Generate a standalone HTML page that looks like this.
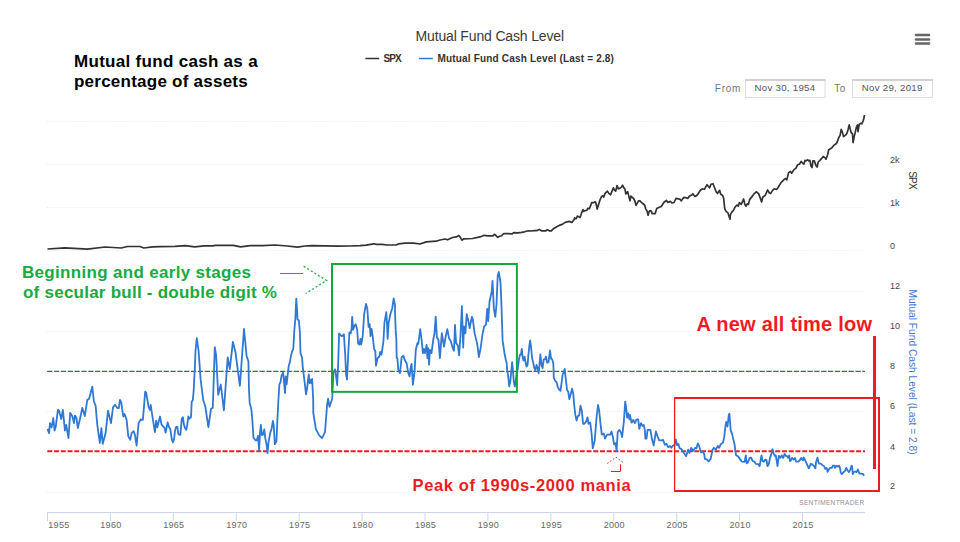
<!DOCTYPE html>
<html><head><meta charset="utf-8">
<style>
html,body{margin:0;padding:0;background:#fff;}
body{width:960px;height:542px;position:relative;overflow:hidden;font-family:"Liberation Sans", sans-serif;}
.t{position:absolute;white-space:nowrap;line-height:1;}
svg{position:absolute;left:0;top:0;}
</style></head><body>
<svg width="960" height="542" viewBox="0 0 960 542">
  <!-- gridlines top -->
  <g stroke="#ebebeb" stroke-width="1" stroke-dasharray="1,1.5">
    <line x1="47" y1="121.5" x2="864" y2="121.5"/>
    <line x1="47" y1="164.5" x2="864" y2="164.5"/>
    <line x1="47" y1="207.5" x2="864" y2="207.5"/>
    <line x1="47" y1="250.5" x2="864" y2="250.5"/>
    <line x1="47" y1="291.5" x2="864" y2="291.5"/>
    <line x1="47" y1="331.5" x2="864" y2="331.5"/>
    <line x1="47" y1="411.5" x2="864" y2="411.5"/>
    <line x1="47" y1="492.5" x2="864" y2="492.5"/>
  </g>
  <!-- x axis -->
  <g stroke="#ccd6eb" stroke-width="1">
    <line x1="47" y1="512.5" x2="865" y2="512.5"/>
  </g>
  <g stroke="#ccd6eb" stroke-width="1">
    <line x1="47.5" y1="512" x2="47.5" y2="521"/><line x1="110.4" y1="512" x2="110.4" y2="521"/><line x1="173.3" y1="512" x2="173.3" y2="521"/><line x1="236.3" y1="512" x2="236.3" y2="521"/><line x1="299.2" y1="512" x2="299.2" y2="521"/><line x1="362.1" y1="512" x2="362.1" y2="521"/><line x1="425.0" y1="512" x2="425.0" y2="521"/><line x1="487.9" y1="512" x2="487.9" y2="521"/><line x1="550.9" y1="512" x2="550.9" y2="521"/><line x1="613.8" y1="512" x2="613.8" y2="521"/><line x1="676.7" y1="512" x2="676.7" y2="521"/><line x1="739.6" y1="512" x2="739.6" y2="521"/><line x1="802.5" y1="512" x2="802.5" y2="521"/>
  </g>
  <!-- annotations lines -->
  <line x1="47.1" y1="371.4" x2="865" y2="371.4" stroke="#168a28" stroke-width="1.3" stroke-dasharray="5.3,1.55"/>
  <line x1="47.3" y1="451.25" x2="865" y2="451.25" stroke="#ed1c24" stroke-width="2" stroke-dasharray="5,1.74"/>
  <!-- series -->
  <path d="M47.5 249.0 L65.0 247.8 L87.5 249.2 L105.0 247.0 L121.2 248.0 L127.5 246.5 L140.0 246.5 L143.8 248.0 L152.5 246.8 L160.0 246.6 L175.0 246.4 L185.4 245.7 L194.8 246.9 L204.2 245.9 L212.5 245.9 L215.6 245.4 L233.3 245.4 L240.6 246.9 L250.0 245.6 L262.5 245.6 L275.0 245.0 L287.5 246.0 L297.5 247.1 L305.0 246.0 L312.5 245.6 L337.5 246.2 L350.0 246.0 L360.0 245.6 L366.2 245.2 L373.8 243.8 L376.2 244.4 L382.5 244.4 L386.2 245.0 L396.2 245.0 L398.8 243.8 L405.0 243.1 L413.8 243.1 L420.0 244.0 L426.2 241.9 L436.2 241.2 L440.0 240.0 L445.0 239.0 L447.5 239.8 L452.5 237.5 L456.2 236.9 L458.8 235.6 L460.0 236.9 L461.9 240.2 L463.8 238.8 L472.5 238.5 L480.0 236.8 L482.0 236.3 L484.0 235.3 L487.9 235.8 L492.9 235.8 L494.4 234.3 L495.8 235.3 L497.8 237.3 L499.8 236.3 L501.3 235.8 L503.8 233.6 L507.7 233.6 L512.2 233.8 L513.7 232.6 L517.6 232.8 L521.6 232.3 L524.5 231.8 L528.5 230.8 L530.5 231.0 L534.5 230.6 L536.9 230.6 L539.4 229.4 L541.4 230.8 L545.8 230.8 L547.3 229.8 L549.3 230.8 L551.3 230.8 L553.8 228.4 L557.2 226.4 L559.2 225.4 L562.2 224.4 L565.1 222.4 L569.1 221.4 L571.6 222.4 L571.9 222.5 L574.1 219.5 L574.6 217.9 L576.0 218.8 L577.4 216.1 L579.2 217.0 L580.1 217.4 L581.5 213.3 L582.9 209.6 L583.8 211.4 L585.2 210.5 L586.6 210.5 L588.0 208.2 L589.4 208.7 L590.3 206.4 L591.7 202.7 L593.5 202.7 L595.4 201.8 L596.3 204.5 L597.2 209.1 L598.6 204.5 L600.0 199.9 L601.8 196.2 L602.8 195.8 L603.7 197.1 L605.1 193.4 L607.4 191.1 L608.8 193.4 L610.6 194.8 L612.0 191.1 L613.4 187.9 L614.3 189.8 L615.7 191.1 L617.0 185.6 L618.4 188.8 L619.8 188.4 L621.2 187.4 L622.6 185.2 L623.5 187.4 L624.9 188.8 L625.8 193.9 L627.7 191.6 L629.0 197.1 L630.0 200.8 L630.9 196.2 L633.6 198.5 L635.0 201.3 L636.0 205.4 L637.3 203.1 L638.7 200.8 L640.0 200.9 L642.0 203.0 L644.6 205.0 L645.6 208.6 L647.1 211.1 L648.1 215.2 L649.1 211.6 L650.1 210.6 L651.2 211.1 L652.2 213.6 L655.2 213.6 L656.7 208.6 L658.8 207.5 L661.3 206.5 L663.8 202.5 L666.4 200.4 L667.9 202.5 L670.4 201.4 L672.0 203.0 L674.0 202.5 L676.0 198.4 L678.6 198.9 L680.1 199.4 L681.1 200.9 L682.6 198.9 L684.1 197.4 L686.7 197.9 L687.7 198.4 L689.7 195.9 L691.8 194.9 L692.8 193.8 L694.8 196.4 L696.3 195.9 L697.8 194.3 L700.4 190.3 L702.4 188.8 L704.4 189.3 L707.0 184.7 L708.2 186.2 L709.5 187.8 L711.0 184.2 L713.0 183.7 L714.6 187.8 L716.1 191.8 L717.6 193.3 L719.6 190.3 L720.7 194.3 L722.7 195.4 L723.7 198.4 L724.7 208.6 L726.2 211.6 L727.8 212.6 L730.0 219.2 L730.4 214.6 L732.2 211.6 L733.4 210.4 L735.2 206.8 L737.0 205.0 L738.2 206.2 L739.4 202.6 L741.2 204.4 L743.6 199.0 L744.8 204.4 L746.0 206.2 L747.2 203.8 L748.4 204.4 L749.6 199.6 L752.0 196.6 L753.8 194.2 L756.2 191.8 L758.6 193.6 L760.4 198.4 L761.6 202.0 L762.8 197.2 L765.2 195.4 L767.6 190.0 L769.4 193.0 L770.6 193.6 L772.4 190.6 L774.2 188.8 L776.6 189.4 L778.4 187.0 L780.8 182.8 L783.8 179.8 L785.6 178.6 L786.8 179.8 L788.6 172.6 L790.4 171.4 L791.6 173.2 L794.0 169.6 L795.8 168.4 L797.0 166.0 L797.8 164.8 L799.4 164.2 L801.1 161.4 L802.7 163.1 L803.9 164.2 L805.0 160.3 L806.1 160.9 L807.7 159.8 L808.8 160.9 L809.9 160.3 L811.0 165.9 L812.1 167.5 L812.9 160.9 L814.4 160.9 L815.8 165.3 L817.1 167.0 L818.2 162.0 L819.9 160.3 L821.5 158.7 L823.2 156.5 L824.9 157.6 L826.0 159.2 L827.6 154.8 L828.7 149.8 L830.4 148.7 L832.1 147.6 L833.7 145.4 L835.4 144.3 L837.0 142.6 L838.7 137.7 L840.1 135.4 L841.2 129.4 L842.4 132.1 L843.5 136.6 L845.3 135.4 L847.0 133.2 L848.1 129.4 L849.2 124.9 L850.3 129.4 L851.2 132.7 L852.5 133.8 L853.1 142.6 L854.2 136.6 L855.3 132.1 L856.4 127.2 L857.5 124.9 L858.0 131.6 L859.2 124.4 L860.8 123.3 L861.9 123.8 L863.0 121.1 L863.8 118.8 L864.5 115.0" fill="none" stroke="#333" stroke-width="1.7" stroke-linejoin="round"/>
  <path d="M47.5 428.9 L49.1 433.1 L50.0 423.1 L51.6 427.3 L53.3 418.1 L54.6 430.6 L55.8 426.4 L57.9 409.8 L59.1 410.7 L61.2 419.0 L62.9 409.8 L64.9 430.6 L66.2 424.8 L68.5 438.0 L70.2 412.8 L72.4 416.5 L74.0 423.1 L74.9 415.6 L76.5 418.1 L77.8 428.1 L79.8 419.8 L82.3 407.8 L84.8 416.1 L87.3 399.9 L89.0 399.0 L90.6 393.2 L92.3 386.6 L93.9 401.5 L95.6 405.7 L97.3 424.8 L99.8 443.0 L101.4 428.1 L102.7 443.9 L105.6 433.1 L108.0 410.7 L111.0 423.1 L113.0 407.3 L115.0 404.9 L117.2 407.8 L118.8 408.2 L120.0 399.9 L121.3 402.4 L122.0 408.2 L123.3 416.5 L124.6 414.0 L126.6 419.8 L128.3 436.4 L130.3 439.7 L131.6 433.1 L133.6 431.1 L134.9 434.7 L136.6 445.5 L138.6 423.1 L140.7 419.5 L142.9 419.8 L145.2 391.6 L146.2 392.9 L148.5 406.5 L149.9 409.8 L150.7 404.9 L151.9 413.2 L154.0 426.4 L154.9 432.2 L156.2 420.6 L157.3 427.3 L159.8 417.3 L160.0 416.5 L161.5 424.6 L162.9 426.1 L164.4 427.6 L165.6 432.7 L166.6 427.6 L167.7 422.4 L168.9 426.8 L170.3 429.0 L171.8 439.4 L173.0 442.3 L174.0 439.4 L175.1 430.5 L176.2 426.8 L177.4 426.8 L178.4 434.2 L180.4 434.9 L181.8 418.7 L182.9 417.2 L183.9 424.6 L185.1 428.3 L186.3 429.8 L187.3 424.6 L188.3 416.5 L189.5 418.7 L191.0 417.2 L191.7 401.7 L192.8 400.3 L193.7 390.7 L194.2 378.9 L194.8 370.0 L195.5 351.0 L196.8 338.1 L198.6 351.0 L200.6 379.4 L203.2 400.0 L205.3 406.5 L208.4 427.1 L211.0 409.0 L212.8 407.7 L214.8 347.1 L216.1 354.8 L218.2 394.8 L220.8 384.5 L223.9 410.3 L227.7 357.4 L229.8 369.0 L232.9 341.9 L235.5 352.3 L239.9 385.8 L244.0 329.0 L246.6 356.1 L248.4 361.3 L249.0 390.0 L249.7 402.9 L251.4 409.4 L252.3 419.7 L253.5 437.7 L255.5 440.3 L256.8 440.3 L258.1 435.8 L259.1 450.6 L260.0 432.6 L260.9 424.8 L261.9 435.2 L263.2 434.5 L264.3 429.4 L265.2 437.7 L266.5 444.2 L267.5 453.2 L268.6 441.6 L270.3 432.6 L271.6 428.7 L272.9 421.0 L273.8 426.1 L274.8 444.2 L276.4 441.6 L277.4 419.7 L278.4 400.0 L279.4 384.3 L280.5 382.1 L281.6 375.4 L283.1 372.7 L283.8 378.8 L285.0 393.2 L285.7 376.5 L286.6 384.3 L287.5 376.5 L288.8 365.5 L289.9 362.1 L290.8 356.6 L291.9 352.2 L293.3 348.9 L294.3 330.6 L295.3 319.4 L295.8 308.3 L296.3 298.6 L297.1 310.3 L297.5 319.4 L298.9 320.5 L299.9 332.6 L300.5 353.3 L302.1 357.7 L302.7 366.6 L303.8 375.4 L304.9 384.3 L306.0 394.3 L307.1 388.7 L307.9 381.0 L308.8 374.3 L309.6 383.2 L310.8 379.9 L311.5 383.2 L312.1 378.8 L313.2 399.8 L313.3 412.9 L315.9 429.1 L319.0 435.2 L322.0 438.2 L325.0 432.2 L327.1 404.8 L328.1 398.7 L329.5 406.8 L332.2 398.7 L333.5 372.0 L335.0 369.4 L335.9 374.9 L337.2 385.1 L338.3 360.2 L339.1 333.4 L340.5 335.2 L342.0 336.2 L343.9 334.3 L345.2 354.6 L346.1 374.9 L347.0 379.6 L348.3 352.8 L349.4 332.5 L350.7 333.4 L351.6 328.8 L352.2 316.8 L353.1 329.7 L354.4 326.0 L355.7 324.2 L357.2 329.7 L358.1 343.6 L359.4 344.5 L360.5 338.9 L361.2 344.5 L362.7 336.2 L364.2 314.0 L366.0 303.9 L367.3 308.5 L368.6 326.9 L369.7 324.2 L370.5 336.2 L371.6 328.8 L372.9 338.0 L374.1 349.1 L375.3 350.9 L376.0 365.7 L377.5 358.3 L379.3 356.5 L380.2 351.9 L381.5 354.6 L383.4 341.7 L384.5 322.3 L386.3 312.2 L387.1 325.1 L387.6 338.9 L388.6 323.2 L390.4 314.0 L392.2 308.5 L393.7 298.3 L395.0 305.0 L395.0 312.2 L395.8 333.2 L396.3 338.0 L396.7 358.1 L397.4 358.3 L398.3 369.8 L400.0 373.1 L401.6 357.3 L403.3 355.6 L405.0 360.6 L406.6 363.1 L408.3 373.1 L409.6 376.4 L410.8 366.4 L411.6 363.9 L412.9 384.7 L414.6 371.4 L415.8 349.8 L417.4 343.2 L418.3 344.0 L420.2 329.1 L421.6 339.9 L422.9 353.2 L424.1 349.0 L424.9 353.2 L426.6 344.9 L427.4 358.1 L428.2 348.2 L429.1 364.8 L429.9 349.8 L431.5 353.2 L433.5 338.2 L434.5 333.2 L435.7 316.6 L436.9 337.4 L438.5 339.9 L439.9 358.1 L441.8 333.2 L444.0 346.5 L445.7 336.5 L447.3 329.1 L449.0 338.2 L450.6 340.7 L452.8 348.2 L454.0 350.7 L455.0 324.9 L456.1 343.1 L457.9 345.7 L459.1 355.4 L460.5 335.2 L461.9 306.2 L463.2 347.5 L464.0 326.4 L465.4 333.4 L466.7 314.1 L468.4 321.1 L469.6 328.2 L471.9 316.8 L472.8 319.4 L474.6 333.4 L477.2 343.9 L478.9 357.1 L480.7 347.5 L482.5 334.3 L484.2 326.4 L486.0 324.6 L487.2 308.9 L488.2 321.1 L489.5 301.8 L491.8 291.3 L492.5 280.8 L493.9 308.9 L495.3 316.8 L496.5 304.5 L497.7 275.5 L498.8 272.0 L500.5 282.5 L501.4 303.6 L502.6 340.4 L504.4 352.7 L505.8 359.7 L506.6 362.6 L507.2 370.4 L508.3 377.0 L509.2 386.4 L510.3 381.5 L511.6 368.2 L512.1 362.1 L512.9 370.4 L513.8 381.5 L514.7 386.4 L515.5 383.7 L516.6 373.2 L517.7 369.3 L518.8 360.4 L519.9 354.9 L521.0 354.4 L521.8 348.8 L522.6 357.1 L523.5 360.4 L524.6 356.6 L525.4 361.6 L526.5 366.5 L527.6 364.9 L528.2 357.1 L529.3 346.1 L530.2 340.5 L531.0 346.6 L532.1 358.2 L533.2 362.6 L534.3 368.2 L535.4 370.4 L536.5 364.9 L537.6 368.2 L538.7 373.2 L540.4 354.4 L541.5 364.9 L542.6 368.2 L543.7 359.3 L545.0 359.3 L545.9 356.6 L547.2 362.7 L548.5 362.1 L550.0 350.5 L551.1 358.8 L552.2 359.4 L553.3 363.3 L553.8 377.6 L555.5 381.5 L556.6 382.1 L557.7 387.1 L559.4 389.8 L560.5 390.9 L561.6 382.6 L562.7 374.3 L563.6 372.7 L564.7 368.8 L565.5 376.5 L567.1 390.4 L568.2 391.5 L569.3 399.2 L570.7 394.3 L572.1 388.7 L573.2 393.2 L573.8 399.8 L574.0 403.1 L575.3 414.7 L576.6 420.5 L577.9 416.0 L579.2 415.4 L580.5 405.7 L581.8 410.8 L583.1 423.8 L584.4 423.8 L586.3 421.2 L587.6 417.3 L588.5 423.8 L590.2 422.5 L591.5 432.8 L592.8 448.3 L594.7 440.6 L596.6 417.3 L598.0 405.0 L599.2 410.8 L600.5 423.8 L601.8 434.7 L603.8 433.4 L605.0 438.6 L607.0 434.7 L610.2 434.7 L611.5 431.5 L612.8 436.7 L614.1 444.4 L615.0 444.4 L615.5 443.2 L616.6 450.9 L617.7 432.1 L619.4 429.9 L621.0 432.6 L622.1 437.1 L623.8 422.1 L625.2 401.6 L626.0 406.1 L627.1 417.7 L628.2 413.3 L629.4 419.4 L629.9 414.9 L631.6 422.7 L633.2 419.9 L634.9 423.2 L636.5 419.4 L638.2 419.4 L639.3 428.8 L641.0 423.2 L642.6 426.0 L643.7 424.9 L644.9 430.4 L645.4 438.7 L646.5 438.7 L647.6 429.9 L650.4 429.9 L652.0 439.3 L653.7 445.4 L655.9 431.5 L657.6 436.5 L659.2 440.4 L662.0 440.4 L663.1 439.9 L664.8 444.8 L666.5 443.7 L668.1 447.1 L670.0 446.5 L670.0 445.9 L671.3 447.8 L672.6 445.9 L674.5 445.2 L675.8 439.4 L677.1 445.2 L678.4 443.9 L679.7 448.4 L681.6 449.1 L682.9 451.7 L684.9 454.2 L686.1 456.2 L688.1 449.7 L689.4 452.9 L691.3 447.8 L693.0 451.0 L695.2 447.8 L696.5 448.4 L697.8 443.3 L699.1 445.9 L701.0 452.3 L702.9 451.7 L704.2 454.2 L704.9 458.8 L706.8 459.4 L708.7 461.4 L710.7 458.8 L712.6 449.7 L713.9 447.8 L715.9 449.7 L717.8 445.9 L719.1 447.8 L721.0 443.9 L723.0 442.6 L724.2 437.4 L725.5 425.8 L726.2 422.0 L727.5 426.5 L728.8 414.9 L729.4 413.6 L730.7 430.4 L732.0 433.6 L734.6 444.6 L735.9 454.9 L737.8 456.2 L740.0 458.8 L740.0 459.6 L740.8 460.0 L741.7 461.7 L744.6 461.8 L745.8 455.4 L746.7 463.3 L747.9 462.5 L749.6 457.9 L751.2 457.7 L752.5 460.8 L754.6 462.1 L755.8 463.8 L758.3 464.2 L759.6 466.2 L761.5 455.4 L762.5 460.8 L763.8 461.8 L765.4 459.6 L766.5 460.0 L767.5 466.2 L768.8 464.2 L770.0 457.9 L771.2 454.6 L772.5 449.2 L773.8 453.8 L774.8 455.8 L775.8 455.4 L777.5 466.2 L778.8 455.8 L780.4 457.9 L781.7 455.4 L783.3 457.9 L784.6 453.8 L785.8 455.8 L787.1 456.2 L787.9 457.9 L789.2 455.4 L790.0 461.2 L791.2 460.0 L792.1 457.9 L793.8 459.6 L795.0 457.9 L796.2 461.7 L798.3 461.7 L800.0 460.0 L801.2 457.9 L802.9 460.4 L803.8 457.5 L805.8 461.7 L808.8 468.3 L810.8 463.8 L812.5 464.6 L813.8 465.8 L815.4 468.3 L816.0 462.4 L817.5 457.6 L818.5 462.4 L819.2 463.7 L821.1 463.7 L822.4 465.3 L824.0 466.0 L825.3 468.9 L826.6 467.9 L827.6 471.8 L828.9 469.5 L829.9 467.9 L831.8 467.9 L832.8 465.7 L834.4 465.7 L835.0 467.9 L836.3 465.7 L837.6 466.6 L839.2 465.7 L839.9 467.6 L840.8 472.8 L841.8 474.1 L843.4 472.4 L845.0 470.8 L846.3 467.9 L847.6 470.5 L848.9 472.1 L850.2 469.9 L851.5 465.7 L852.1 466.0 L852.8 474.1 L853.7 472.1 L855.4 471.5 L856.6 472.1 L857.9 469.5 L858.9 472.1 L859.5 473.7 L861.5 473.7 L863.1 474.1 L864.1 475.7" fill="none" stroke="#2f78d4" stroke-width="1.8" stroke-linejoin="round"/>
  <!-- green box -->
  <rect x="332" y="264" width="184.9" height="127.85" fill="none" stroke="#12a83c" stroke-width="2"/>
  <!-- red box -->
  <g stroke="#ed1c24" fill="none">
    <line x1="674" y1="397.9" x2="880" y2="397.9" stroke-width="2"/>
    <line x1="879" y1="397" x2="879" y2="492" stroke-width="2"/>
    <line x1="674" y1="490.9" x2="880" y2="490.9" stroke-width="2"/>
    <line x1="674.6" y1="397" x2="674.6" y2="492" stroke-width="1.3"/>
  </g>
  <!-- red vertical -->
  <line x1="874.5" y1="336" x2="874.5" y2="469" stroke="#ed1c24" stroke-width="3"/>
  <!-- red arrow -->
  <polyline points="607.3,463.5 616,457.2 623.5,462.6" fill="none" stroke="#ed1c24" stroke-width="1" stroke-dasharray="1.5,2"/>
  <polyline points="611,471.5 620.5,471.5 620.5,464.3" fill="none" stroke="#ed1c24" stroke-width="1"/>
  <!-- hamburger -->
  <g stroke="#666" stroke-width="2.5" stroke-linecap="round">
    <line x1="916" y1="35" x2="929" y2="35"/>
    <line x1="916" y1="39.5" x2="929" y2="39.5"/>
    <line x1="916" y1="43.5" x2="929" y2="43.5"/>
  </g>
  <!-- legend lines -->
  <line x1="365.4" y1="58.5" x2="379.2" y2="58.5" stroke="#333" stroke-width="1.5"/>
  <line x1="419" y1="58.5" x2="432.8" y2="58.5" stroke="#2f78d4" stroke-width="1.5"/>
  <!-- range inputs -->
  <rect x="745.5" y="80" width="79.5" height="17.5" fill="#fff" stroke="#ddd" stroke-width="1"/>
  <line x1="745" y1="80" x2="825.5" y2="80" stroke="#c8c8c8" stroke-width="1.5"/>
  <rect x="852.5" y="80" width="80" height="17.5" fill="#fff" stroke="#ddd" stroke-width="1"/>
  <line x1="852" y1="80" x2="933" y2="80" stroke="#c8c8c8" stroke-width="1.5"/>
  <!-- rotated titles -->
  <text x="912" y="180" transform="rotate(90 912 180)" text-anchor="middle" dominant-baseline="middle" font-family='"Liberation Sans", sans-serif' font-size="10" letter-spacing="-0.9" fill="#333">SPX</text>
  <text x="912" y="372" transform="rotate(90 912 372)" text-anchor="middle" dominant-baseline="middle" font-family='"Liberation Sans", sans-serif' font-size="10.2" fill="#4a78d0">Mutual Fund Cash Level (Last = 2.8)</text>
</svg>
<div class="t" style="left:415.5px;top:28.5px;font-size:14px;letter-spacing:-0.15px;color:#3a3a3a;">Mutual Fund Cash Level</div>
<div class="t" style="left:383.5px;top:54px;font-size:10px;letter-spacing:-0.9px;font-weight:bold;color:#333;">SPX</div>
<div class="t" style="left:437.5px;top:54px;font-size:10px;letter-spacing:0.18px;font-weight:bold;color:#333;">Mutual Fund Cash Level (Last = 2.8)</div>
<div class="t" style="left:714.8px;top:83.5px;font-size:10px;letter-spacing:0.75px;color:#777;">From</div>
<div class="t" style="left:754.5px;top:82.5px;font-size:9.7px;letter-spacing:0.27px;color:#555;">Nov 30, 1954</div>
<div class="t" style="left:834.3px;top:83.5px;font-size:10px;letter-spacing:0.5px;color:#777;">To</div>
<div class="t" style="left:861.8px;top:82.5px;font-size:9.7px;letter-spacing:0.27px;color:#555;">Nov 29, 2019</div>
<div class="t" style="left:74px;top:52px;font-size:17px;letter-spacing:0.3px;font-weight:bold;color:#000;line-height:20px;">Mutual fund cash as a</div>
<div class="t" style="left:74px;top:72.4px;font-size:17px;letter-spacing:0.24px;font-weight:bold;color:#000;line-height:20px;">percentage of assets</div>
<div class="t" style="left:20px;top:262px;padding:1px 2px;background:#fff;font-size:17px;letter-spacing:0.32px;font-weight:bold;color:#19aa42;line-height:20px;">Beginning and early stages</div>
<div class="t" style="left:21px;top:282px;padding:1px 2px 1px 2px;background:#fff;font-size:17px;letter-spacing:0.24px;font-weight:bold;color:#19aa42;line-height:20px;">of secular bull - double digit %</div>
<div class="t" style="left:694.5px;top:313px;padding:1px 2px;background:#fff;font-size:20px;letter-spacing:0.24px;font-weight:bold;color:#ed1c24;">A new all time low</div>
<div class="t" style="left:410.5px;top:476px;padding:1px 2px;background:#fff;font-size:16.5px;letter-spacing:0.63px;font-weight:bold;color:#ed1c24;">Peak of 1990s-2000 mania</div>
<svg width="960" height="542" viewBox="0 0 960 542">
  <!-- green arrow -->
  <line x1="280" y1="273.5" x2="303" y2="273.5" stroke="#19aa42" stroke-width="1"/>
  <polyline points="303.7,266.3 326.6,280.5 305.7,293.5" fill="none" stroke="#19aa42" stroke-dasharray="2,2.2" stroke-width="1.3"/>
</svg>
<div class="t" style="left:799.2px;top:499.8px;font-size:6.5px;letter-spacing:0.36px;color:#8a8f99;">SENTIMENTRADER</div>
<div class="t" style="left:890px;top:155.5px;font-size:9px;color:#444;">2k</div>
<div class="t" style="left:890px;top:198.5px;font-size:9px;color:#444;">1k</div>
<div class="t" style="left:890px;top:241.5px;font-size:9px;color:#444;">0</div>
<div class="t" style="left:890px;top:281.5px;font-size:9px;color:#444;">12</div>
<div class="t" style="left:890px;top:322.0px;font-size:9px;color:#444;">10</div>
<div class="t" style="left:890px;top:362.0px;font-size:9px;color:#444;">8</div>
<div class="t" style="left:890px;top:402.0px;font-size:9px;color:#444;">6</div>
<div class="t" style="left:890px;top:443.0px;font-size:9px;color:#444;">4</div>
<div class="t" style="left:890px;top:482.4px;font-size:9px;color:#444;">2</div>
<div class="t" style="left:48.3px;top:520.7px;font-size:9px;letter-spacing:0.3px;color:#666;">1955</div>
<div class="t" style="left:100.3px;top:520.7px;font-size:9px;letter-spacing:0.3px;color:#666;width:21px;text-align:center;">1960</div>
<div class="t" style="left:163.2px;top:520.7px;font-size:9px;letter-spacing:0.3px;color:#666;width:21px;text-align:center;">1965</div>
<div class="t" style="left:226.2px;top:520.7px;font-size:9px;letter-spacing:0.3px;color:#666;width:21px;text-align:center;">1970</div>
<div class="t" style="left:289.1px;top:520.7px;font-size:9px;letter-spacing:0.3px;color:#666;width:21px;text-align:center;">1975</div>
<div class="t" style="left:352.0px;top:520.7px;font-size:9px;letter-spacing:0.3px;color:#666;width:21px;text-align:center;">1980</div>
<div class="t" style="left:414.9px;top:520.7px;font-size:9px;letter-spacing:0.3px;color:#666;width:21px;text-align:center;">1985</div>
<div class="t" style="left:477.8px;top:520.7px;font-size:9px;letter-spacing:0.3px;color:#666;width:21px;text-align:center;">1990</div>
<div class="t" style="left:540.8px;top:520.7px;font-size:9px;letter-spacing:0.3px;color:#666;width:21px;text-align:center;">1995</div>
<div class="t" style="left:603.7px;top:520.7px;font-size:9px;letter-spacing:0.3px;color:#666;width:21px;text-align:center;">2000</div>
<div class="t" style="left:666.6px;top:520.7px;font-size:9px;letter-spacing:0.3px;color:#666;width:21px;text-align:center;">2005</div>
<div class="t" style="left:729.5px;top:520.7px;font-size:9px;letter-spacing:0.3px;color:#666;width:21px;text-align:center;">2010</div>
<div class="t" style="left:792.4px;top:520.7px;font-size:9px;letter-spacing:0.3px;color:#666;width:21px;text-align:center;">2015</div>
</body></html>
